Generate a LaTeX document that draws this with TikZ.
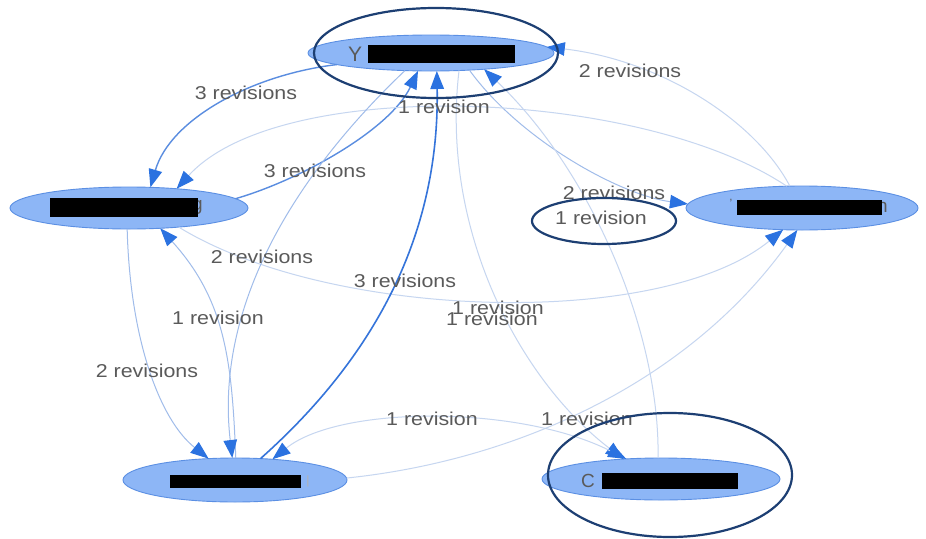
\documentclass[tikz,border=0pt]{standalone}
\usepackage{fontspec}
\setmainfont{Liberation Sans}
\newfontfamily\lblfont[FakeStretch=1.15]{Liberation Sans}
\usetikzlibrary{arrows.meta,shapes.geometric}

\definecolor{nodefill}{HTML}{8DB6F6}
\definecolor{nodeline}{HTML}{5B8FE3}
\definecolor{tipblue}{HTML}{2B72E0}
\definecolor{edgelight}{HTML}{C6D6F0}
\definecolor{edgemid}{HTML}{A0BCEA}
\definecolor{edgedark}{HTML}{5A8DE0}
\definecolor{edgedeep}{HTML}{3574DA}
\definecolor{navy}{HTML}{1D3F73}
\definecolor{labelgray}{HTML}{5A5A5A}

\begin{document}
\begin{tikzpicture}[x=1pt,y=-1pt,
  >={Triangle[length=18pt,width=13.5pt,color=tipblue]},
  vertex/.style={ellipse, draw=nodeline, fill=nodefill, line width=0.9pt,
                 inner sep=0pt, outer sep=0pt},
  mark box/.style={fill=black, draw=none},
  halo/.style={ellipse, draw=navy, line width=2.2pt, inner sep=0pt, outer sep=0pt},
  link/.style={->, line width=1pt, edgelight},
  linkmid/.style={->, line width=1pt, edgemid},
  linkdark/.style={->, line width=1.4pt, edgedark},
  linkdeep/.style={->, line width=1.6pt, edgedeep},
  lbl/.style={font=\lblfont\fontsize{18.6pt}{22pt}\selectfont, text=labelgray,
              inner sep=0pt, anchor=center},
  nodetext/.style={font=\fontsize{#1}{#1}\selectfont, text=labelgray, inner sep=0pt}
]
\fill[white] (0,0) rectangle (926,538);
\useasboundingbox (0,0) rectangle (926,538);

% ---- vertices
\node[vertex, minimum width=246pt, minimum height=36pt] (Y)  at (431,53)  {};
\node[vertex, minimum width=238pt, minimum height=42pt] (L)  at (129,208) {};
\node[vertex, minimum width=232pt, minimum height=44pt] (R)  at (802,208) {};
\node[vertex, minimum width=224pt, minimum height=44pt] (BL) at (235,480) {};
\node[vertex, minimum width=238pt, minimum height=42pt] (BR) at (661,479) {};

% ---- vertex captions (mostly masked)
\node[nodetext=21pt] (capY) at (355,54) {Y};
\fill[mark box] (368,45) rectangle (515,63);

\node[nodetext=19pt, anchor=west] (capL) at (192,207) {g};
\fill[mark box] (50,198) rectangle (198,217);

\node[nodetext=12pt] (capRa) at (731,203) {'};
\node[nodetext=19pt, anchor=west] (capRb) at (877,207) {n};
\fill[mark box] (737,200) rectangle (882,215);

\node[nodetext=12pt, text=gray!60] (capBL) at (308,481) {|};
\fill[mark box] (170,475) rectangle (301,488);

\node[nodetext=19pt] (capBR) at (588,481) {C};
\fill[mark box] (602,473) rectangle (738,489);

% ---- connectors
\draw[linkdark] (Y.187.6) .. controls (250,75) and (170,120) .. (L.44.6);
\draw[linkdark] (L.5.1) .. controls (300,180) and (390,130) .. (Y.234);
\draw[link] (R.119) .. controls (755,120) and (660,60) .. (Y.3);
\draw[linkmid] (Y.336.3) .. controls (520,140) and (620,195) .. (R.178);
\draw[link] (BR.98) .. controls (660,330) and (590,170) .. (Y.343.3);
\draw[link] (R.125) .. controls (640,88) and (280,75) .. (L.22.9);
\draw[link] (L.-21.3) .. controls (330,320) and (660,330) .. (R.-131.8);
\draw[link] (Y.328.9) .. controls (440,230) and (520,380) .. (BR.152.4);
\draw[linkmid] (BL.88) .. controls (232,360) and (225,300) .. (L.-33.2);
\draw[linkmid] (L.-95) .. controls (130,340) and (160,420) .. (BL.141.7);
\draw[linkmid] (Y.214.1) .. controls (290,180) and (215,310) .. (BL.97.8);
\draw[linkdeep] (BL.40.6) .. controls (360,370) and (440,250) .. (Y.288.4);
\draw[link, <->] (BL.29.3) .. controls (340,405) and (520,405) .. (BR.150);
\draw[link] (BL.1.5) .. controls (520,460) and (690,380) .. (R.-102.8);

% ---- connector labels
\node[lbl] (l1)  at (246,93)  {3 revisions};
\node[lbl] (l2)  at (444,107) {1 revision};
\node[lbl] (l3)  at (630,71)  {2 revisions};
\node[lbl] (l4)  at (315,171) {3 revisions};
\node[lbl] (l5)  at (614,193) {2 revisions};
\node[lbl] (l6)  at (601,218) {1 revision};
\node[lbl] (l7)  at (262,257) {2 revisions};
\node[lbl] (l8)  at (405,281) {3 revisions};
\node[lbl] (l9)  at (498,308) {1 revision};
\node[lbl] (l10) at (492,319) {1 revision};
\node[lbl] (l11) at (218,318) {1 revision};
\node[lbl] (l12) at (147,371) {2 revisions};
\node[lbl] (l13) at (432,419) {1 revision};
\node[lbl] (l14) at (587,419) {1 revision};

% ---- highlight rings
\node[halo, minimum width=244pt, minimum height=90pt]  (hlY)   at (436,53)  {};
\node[halo, minimum width=144pt, minimum height=46pt]  (hlRev) at (604,221) {};
\node[halo, minimum width=244pt, minimum height=124pt] (hlC)   at (670,475) {};
\end{tikzpicture}
\end{document}
